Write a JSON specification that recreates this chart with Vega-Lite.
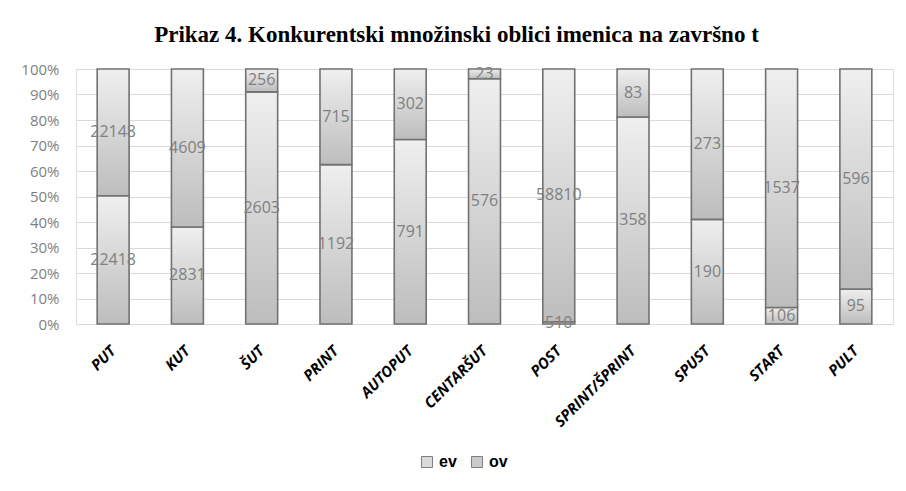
{
  "$schema": "https://vega.github.io/schema/vega-lite/v6.json",
  "autosize": {"type": "none"},
  "width": 817,
  "height": 255,
  "padding": {"left": 76, "top": 69, "right": 13, "bottom": 167},
  "background": "white",
  "title": {
    "text": "Prikaz 4. Konkurentski množinski oblici imenica na završno t",
    "font": "Liberation Serif",
    "fontSize": 23,
    "fontWeight": "bold",
    "color": "#000000",
    "anchor": "middle",
    "frame": "group",
    "dx": -28,
    "baseline": "alphabetic",
    "offset": -3
  },
  "config": {
    "axisY": {
      "tickCount": 10,
      "labelOverlap": false,
      "labelFont": "Open Sans",
      "labelFontSize": 15,
      "labelColor": "#7f7f7f",
      "labelPadding": 17,
      "ticks": false,
      "domain": false,
      "grid": true,
      "gridColor": "#d9d9d9",
      "gridWidth": 1.2
    }
  },
  "data": {
    "values": [
      {"word": "PUT", "type": "ev", "count": 22418},
      {"word": "PUT", "type": "ov", "count": 22148},
      {"word": "KUT", "type": "ev", "count": 2831},
      {"word": "KUT", "type": "ov", "count": 4609},
      {"word": "ŠUT", "type": "ev", "count": 2603},
      {"word": "ŠUT", "type": "ov", "count": 256},
      {"word": "PRINT", "type": "ev", "count": 1192},
      {"word": "PRINT", "type": "ov", "count": 715},
      {"word": "AUTOPUT", "type": "ev", "count": 791},
      {"word": "AUTOPUT", "type": "ov", "count": 302},
      {"word": "CENTARŠUT", "type": "ev", "count": 576},
      {"word": "CENTARŠUT", "type": "ov", "count": 23},
      {"word": "POST", "type": "ev", "count": 510},
      {"word": "POST", "type": "ov", "count": 58810},
      {"word": "SPRINT/ŠPRINT", "type": "ev", "count": 358},
      {"word": "SPRINT/ŠPRINT", "type": "ov", "count": 83},
      {"word": "SPUST", "type": "ev", "count": 190},
      {"word": "SPUST", "type": "ov", "count": 273},
      {"word": "START", "type": "ev", "count": 106},
      {"word": "START", "type": "ov", "count": 1537},
      {"word": "PULT", "type": "ev", "count": 95},
      {"word": "PULT", "type": "ov", "count": 596}
    ]
  },
  "transform": [
    {"stack": "count", "groupby": ["word"], "sort": [{"field": "type", "order": "ascending"}], "offset": "normalize", "as": ["y0", "y1"]},
    {"calculate": "(datum.y0 + datum.y1) / 2", "as": "ymid"}
  ],
  "encoding": {
    "x": {
      "field": "word",
      "type": "nominal",
      "sort": null,
      "scale": {"paddingInner": 0.57, "paddingOuter": 0.285},
      "axis": {
        "title": null,
        "labelAngle": -45,
        "labelAlign": "right",
        "labelBaseline": "middle",
        "labelFont": "Open Sans",
        "labelFontSize": 15,
        "labelFontWeight": "bold",
        "labelFontStyle": "italic",
        "labelColor": "#000000",
        "labelPadding": 24,
        "ticks": false,
        "domain": false
      }
    }
  },
  "layer": [
    {
      "mark": {"type": "bar"},
      "encoding": {
        "y": {
          "field": "y0",
          "type": "quantitative",
          "scale": {"domain": [0, 1], "nice": false},
          "axis": {"title": null, "format": ".0%"}
        },
        "y2": {"field": "y1"},
        "color": {
          "field": "type",
          "type": "nominal",
          "scale": {"domain": ["ev", "ov"], "range": ["#dadada", "#cacaca"]},
          "legend": {
            "title": null,
            "orient": "none",
            "direction": "horizontal",
            "legendX": 343,
            "legendY": 385,
            "symbolType": "square",
            "symbolSize": 121,
            "symbolStrokeColor": "#7f7f7f",
            "symbolStrokeWidth": 1,
            "labelFont": "Liberation Sans",
            "labelFontSize": 16,
            "labelFontWeight": "bold",
            "labelColor": "#000000",
            "labelOffset": 4,
            "columnPadding": 12
          }
        }
      }
    },
    {
      "mark": {
        "type": "bar",
        "fill": {
          "gradient": "linear",
          "x1": 0, "y1": 0, "x2": 0, "y2": 1,
          "stops": [
            {"offset": 0, "color": "#efefef"},
            {"offset": 1, "color": "#bdbdbd"}
          ]
        },
        "stroke": "#727272",
        "strokeWidth": 1.6
      },
      "encoding": {
        "y": {"field": "y0", "type": "quantitative"},
        "y2": {"field": "y1"}
      }
    },
    {
      "mark": {"type": "text", "font": "Open Sans", "fontSize": 16, "color": "#808080", "baseline": "middle", "align": "center"},
      "encoding": {
        "y": {"field": "ymid", "type": "quantitative"},
        "text": {"field": "count", "type": "quantitative", "format": "d"}
      }
    }
  ]
}
